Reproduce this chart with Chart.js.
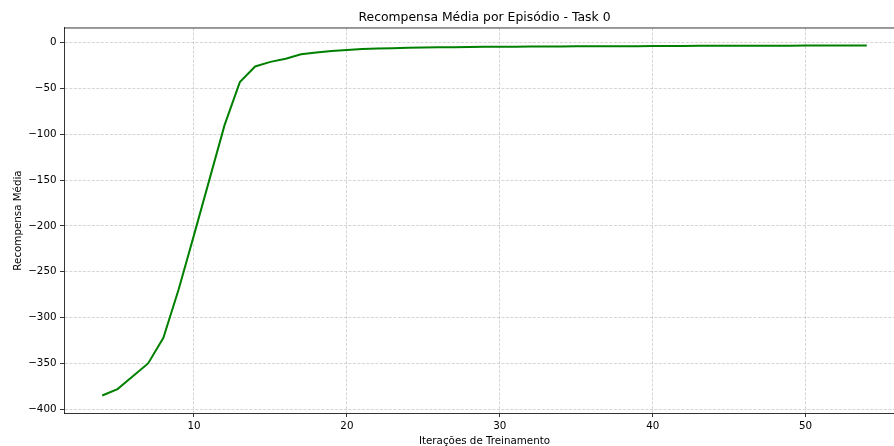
<!DOCTYPE html>
<html>
<head>
<meta charset="utf-8">
<script src="https://cdn.jsdelivr.net/npm/chart.js@4/dist/chart.umd.min.js"></script>
<style>
html,body{margin:0;padding:0;overflow:hidden;background:#fff;width:894px;height:446px;}
canvas{display:block;}
</style>
</head>
<body>
<canvas id="c" width="910" height="446" style="width:910px;height:446px"></canvas>
<script>
const iterations = [4,5,6,7,8,9,10,11,12,13,14,15,16,17,18,19,20,21,22,23,24,25,26,27,28,29,30,31,32,33,34,35,36,37,38,39,40,41,42,43,44,45,46,47,48,49,50,51,52,53,54];
const rewards = [-385,-378,-364,-350,-322,-269,-210,-150,-90,-43,-26,-21,-17.5,-12.7,-10.8,-9.2,-8,-7,-6.4,-6,-5.6,-5.3,-5.1,-4.9,-4.8,-4.6,-4.5,-4.4,-4.3,-4.2,-4.1,-4.0,-4.0,-3.9,-3.8,-3.8,-3.7,-3.6,-3.6,-3.5,-3.5,-3.4,-3.4,-3.3,-3.3,-3.3,-3.2,-3.2,-3.2,-3.1,-3.1];
const xTicks = [10,20,30,40,50];
const xTickLabels = ["10","20","30","40","50"];
const yTicks = [-400,-350,-300,-250,-200,-150,-100,-50,0];
const yTickLabels = ["\u2212400","\u2212350","\u2212300","\u2212250","\u2212200","\u2212150","\u2212100","\u221250","0"];
const chartTitle = "Recompensa Média por Episódio - Task 0";
const xTitle = "Iterações de Treinamento";
const yTitle = "Recompensa Média";

const FONT = "'DejaVu Sans', sans-serif";
const gridColor = 'rgba(176,176,176,0.65)';

const topSpine = {
  id: 'topSpine',
  afterDraw(chart) {
    const {ctx, chartArea} = chart;
    ctx.save();
    ctx.strokeStyle = '#000';
    ctx.lineWidth = 0.8;
    ctx.beginPath();
    ctx.moveTo(chartArea.left, chartArea.top);
    ctx.lineTo(chartArea.right, chartArea.top);
    ctx.stroke();
    ctx.restore();
  }
};

new Chart(document.getElementById('c'), {
  type: 'line',
  data: {
    datasets: [{
      data: iterations.map((x, i) => ({x: x, y: rewards[i]})),
      borderColor: '#008000',
      borderWidth: 2,
      pointRadius: 0,
      tension: 0,
      fill: false
    }]
  },
  options: {
    responsive: false,
    animation: false,
    devicePixelRatio: 1,
    layout: {padding: {left: 0, right: 5, top: 0, bottom: 0}},
    plugins: {
      legend: {display: false},
      tooltip: {enabled: false},
      title: {
        display: true,
        text: chartTitle,
        fullSize: false,
        color: '#000',
        font: {family: FONT, size: 12.4, weight: 'normal', lineHeight: 1.2},
        padding: {top: 10.5, bottom: 2.6}
      }
    },
    scales: {
      x: {
        type: 'linear',
        min: 1.5,
        max: 56.5,
        afterBuildTicks(scale) { scale.ticks = xTicks.map(v => ({value: v})); },
        afterFit(scale) { scale.height = 33; scale.paddingLeft = 0; scale.paddingRight = 0; },
        ticks: {
          color: '#000',
          font: {family: FONT, size: 10.3},
          padding: 3,
          maxRotation: 0,
          autoSkip: false,
          callback: (v, i) => xTickLabels[i]
        },
        grid: {
          color: gridColor,
          lineWidth: 0.8,
          drawTicks: true,
          tickLength: 4,
          tickColor: '#000',
          tickWidth: 0.8,
          tickBorderDash: []
        },
        border: {display: true, color: '#000', width: 0.8, dash: [3, 1.5]},
        title: {
          display: true,
          text: xTitle,
          color: '#000',
          font: {family: FONT, size: 10.3, lineHeight: 1},
          padding: {top: 0, bottom: 0}
        }
      },
      y: {
        type: 'linear',
        min: -404.1,
        max: 16.0,
        afterBuildTicks(scale) { scale.ticks = yTicks.map(v => ({value: v})); },
        afterFit(scale) { scale.width = 64; scale.paddingTop = 0; scale.paddingBottom = 0; },
        ticks: {
          color: '#000',
          font: {family: FONT, size: 10.3},
          padding: 3.5,
          autoSkip: false,
          callback: (v, i) => yTickLabels[i]
        },
        grid: {
          color: gridColor,
          lineWidth: 0.8,
          drawTicks: true,
          tickLength: 4,
          tickColor: '#000',
          tickWidth: 0.8,
          tickBorderDash: []
        },
        border: {display: true, color: '#000', width: 0.8, dash: [3, 1.5]},
        title: {
          display: true,
          text: yTitle,
          color: '#000',
          font: {family: FONT, size: 10.3, lineHeight: 1.2},
          padding: {top: 12, bottom: 0}
        }
      }
    }
  },
  plugins: [topSpine]
});
</script>
</body>
</html>
